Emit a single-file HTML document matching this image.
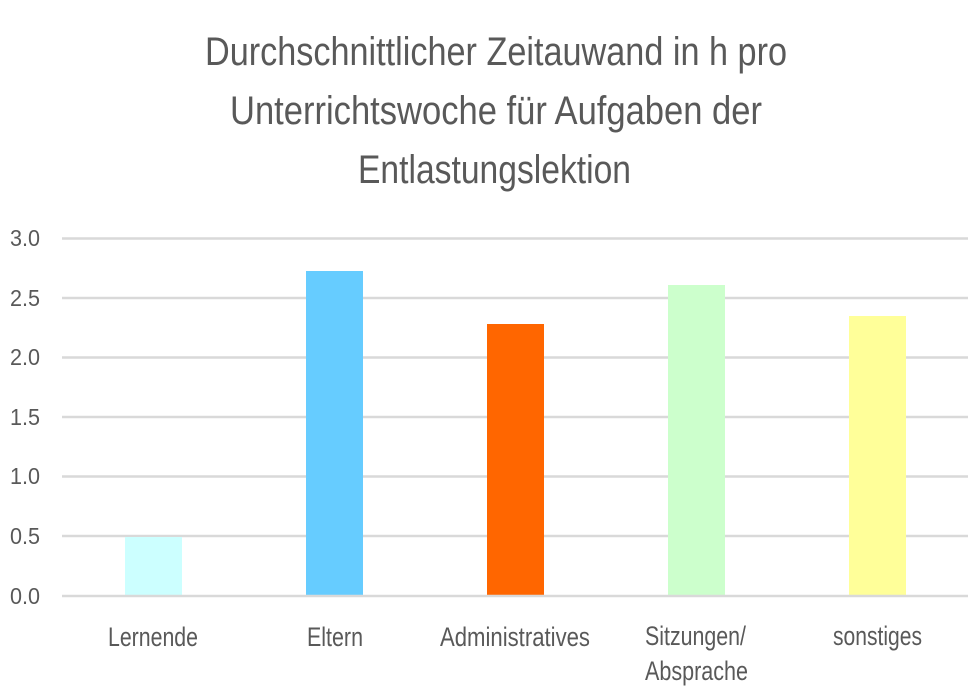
<!DOCTYPE html>
<html>
<head>
<meta charset="utf-8">
<style>
html,body{margin:0;padding:0;background:#fff;}
svg{display:block;}
text{font-family:"Liberation Sans",sans-serif;fill:#595959;}
</style>
</head>
<body>
<svg width="980" height="700" viewBox="0 0 980 700" xmlns="http://www.w3.org/2000/svg">
<rect width="980" height="700" fill="#fff"/>
<!-- title -->
<text x="205" y="65" font-size="40" textLength="582" lengthAdjust="spacingAndGlyphs">Durchschnittlicher Zeitauwand in h pro</text>
<text x="230" y="124" font-size="40" textLength="532" lengthAdjust="spacingAndGlyphs">Unterrichtswoche für Aufgaben der</text>
<text x="358" y="183" font-size="40" textLength="273" lengthAdjust="spacingAndGlyphs">Entlastungslektion</text>
<!-- gridlines -->
<g stroke="#d9d9d9" stroke-width="2.5">
<line x1="62" x2="968" y1="238.5" y2="238.5"/>
<line x1="62" x2="968" y1="298" y2="298"/>
<line x1="62" x2="968" y1="357.5" y2="357.5"/>
<line x1="62" x2="968" y1="417" y2="417"/>
<line x1="62" x2="968" y1="476.5" y2="476.5"/>
<line x1="62" x2="968" y1="536" y2="536"/>
</g>
<!-- y labels -->
<g font-size="23">
<text x="10" y="246" textLength="30" lengthAdjust="spacingAndGlyphs">3.0</text>
<text x="10" y="306" textLength="30" lengthAdjust="spacingAndGlyphs">2.5</text>
<text x="10" y="365" textLength="30" lengthAdjust="spacingAndGlyphs">2.0</text>
<text x="10" y="425" textLength="30" lengthAdjust="spacingAndGlyphs">1.5</text>
<text x="10" y="484" textLength="30" lengthAdjust="spacingAndGlyphs">1.0</text>
<text x="10" y="544" textLength="30" lengthAdjust="spacingAndGlyphs">0.5</text>
<text x="10" y="604" textLength="30" lengthAdjust="spacingAndGlyphs">0.0</text>
</g>
<!-- bars -->
<rect x="125" y="537" width="57" height="59" fill="#ccffff"/>
<rect x="306" y="271" width="57" height="325" fill="#66ccff"/>
<rect x="487" y="324" width="57" height="272" fill="#ff6600"/>
<rect x="668" y="285" width="57" height="311" fill="#ccffcc"/>
<rect x="849" y="316" width="57" height="280" fill="#ffff99"/>
<!-- axis line -->
<line x1="62" x2="968" y1="596" y2="596" stroke="#d9d9d9" stroke-width="2.5"/>
<!-- x labels -->
<g font-size="27">
<text x="108" y="646" textLength="90" lengthAdjust="spacingAndGlyphs">Lernende</text>
<text x="307" y="646" textLength="56" lengthAdjust="spacingAndGlyphs">Eltern</text>
<text x="440" y="646" textLength="150" lengthAdjust="spacingAndGlyphs">Administratives</text>
<text x="645" y="645" textLength="101" lengthAdjust="spacingAndGlyphs">Sitzungen/</text>
<text x="645" y="680" textLength="103" lengthAdjust="spacingAndGlyphs">Absprache</text>
<text x="833" y="645" textLength="89" lengthAdjust="spacingAndGlyphs">sonstiges</text>
</g>
</svg>
</body>
</html>
